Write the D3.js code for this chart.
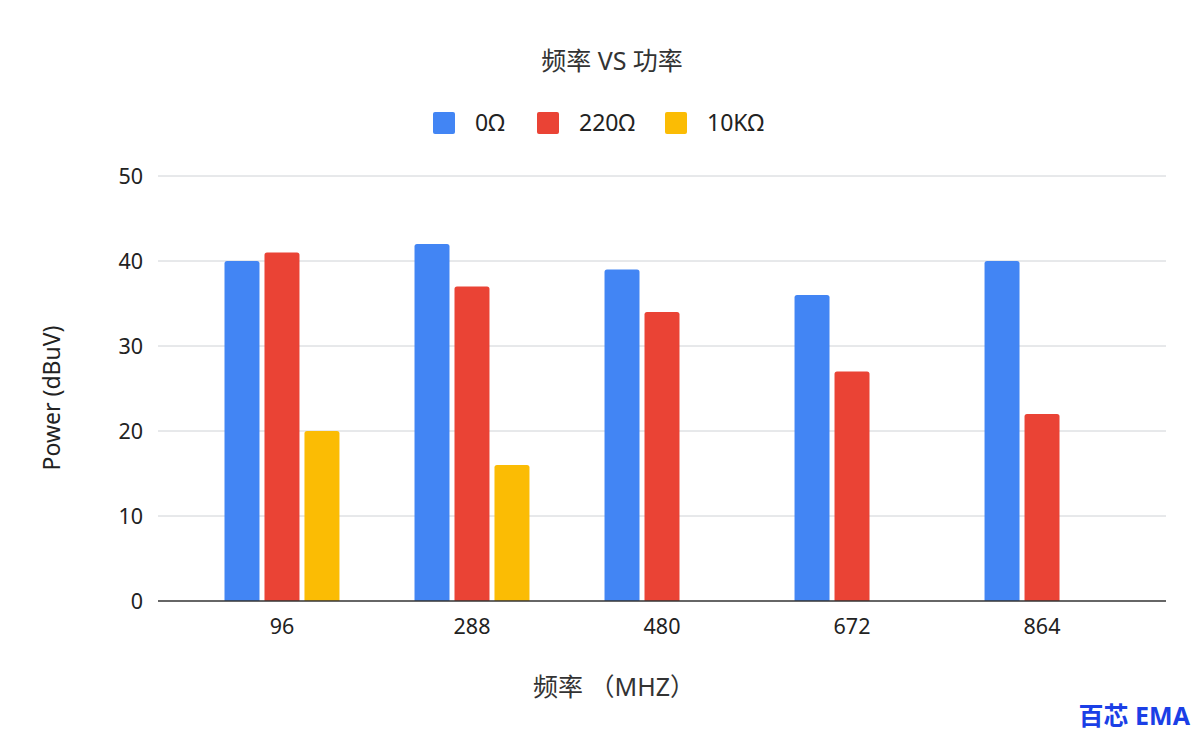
<!DOCTYPE html>
<html><head><meta charset="utf-8">
<script src="https://cdn.jsdelivr.net/npm/d3@7"></script>
<style>
body{margin:0;background:#fff;}
text{font-family:"Noto Sans","Noto Sans CJK SC",sans-serif;}
</style></head>
<body>
<svg id="chart" width="1204" height="742"></svg>
<script>
const categories = ["96","288","480","672","864"];
const seriesNames = ["0Ω","220Ω","10KΩ"];
const series0 = [40,42,39,36,40];
const series220 = [41,37,34,27,22];
const series10k = [20,16,null,null,null];
const yTicks = [0,10,20,30,40,50];
const colors = ["#4285F4","#EA4335","#FBBC04"];
const allSeries = [series0, series220, series10k];

(function(){
const svg = d3.select("#chart");
svg.append("rect").attr("width",1204).attr("height",742).attr("fill","#fff");

const pLeft=158, pRight=1166, pTop=176, pBottom=601;
const x0 = d3.scaleBand().domain(categories).range([pLeft,pRight]).paddingInner(0.395).paddingOuter(0.35);
const x1 = d3.scaleBand().domain(seriesNames).range([0,x0.bandwidth()]).paddingInner(0.125).paddingOuter(0);
const y = d3.scaleLinear().domain([0,50]).range([pBottom,pTop]);

// gridlines
svg.append("g").selectAll("line").data(yTicks.filter(d=>d>0)).join("line")
  .attr("x1",pLeft).attr("x2",pRight).attr("y1",d=>y(d)).attr("y2",d=>y(d))
  .attr("stroke","#cfd2d6").attr("stroke-width",1);

// y labels
svg.append("g").selectAll("text").data(yTicks).join("text")
  .attr("x",143).attr("y",d=>y(d)).attr("dy","0.35em").attr("text-anchor","end")
  .attr("font-size",21.5).attr("fill","#222").text(d=>d);

// bars
const groups = svg.append("g").selectAll("g").data(categories).join("g")
  .attr("transform",d=>`translate(${x0(d)},0)`);
groups.selectAll("path").data((c,i)=>seriesNames.map((s,j)=>({s,v:allSeries[j][i],c:colors[j]})).filter(d=>d.v!=null))
  .join("path")
  .attr("d",d=>{
    const bx=x1(d.s), bw=x1.bandwidth(), by=y(d.v), bh=y(0)-y(d.v), r=2.5;
    return `M${bx},${by+bh}V${by+r}Q${bx},${by} ${bx+r},${by}H${bx+bw-r}Q${bx+bw},${by} ${bx+bw},${by+r}V${by+bh}Z`;
  })
  .attr("fill",d=>d.c);

// baseline
svg.append("line").attr("x1",pLeft).attr("x2",pRight).attr("y1",y(0)).attr("y2",y(0))
  .attr("stroke","#333").attr("stroke-width",1.3);

// x labels
svg.append("g").selectAll("text").data(categories).join("text")
  .attr("x",d=>x0(d)+x0.bandwidth()/2).attr("y",626).attr("dy","0.35em").attr("text-anchor","middle")
  .attr("font-size",21.5).attr("fill","#222").text(d=>d);

// title
svg.append("text").attr("x",612).attr("y",61).attr("dy","0.35em").attr("text-anchor","middle")
  .attr("font-size",25).attr("fill","#333").text("频率 VS 功率");

// legend
const legX=[433,537,665];
const leg = svg.append("g").selectAll("g").data(seriesNames).join("g")
  .attr("transform",(d,i)=>`translate(${legX[i]},112)`);
leg.append("rect").attr("width",22).attr("height",22).attr("rx",2).attr("fill",(d,i)=>colors[i]);
leg.append("text").attr("x",42).attr("y",11).attr("dy","0.35em").attr("font-size",23).attr("fill","#222").text(d=>d);

// axis titles
svg.append("text").attr("transform","translate(52,398) rotate(-90)").attr("dy","0.35em")
  .attr("text-anchor","middle").attr("font-size",23).attr("fill","#222").text("Power (dBuV)");
svg.append("text").attr("x",614).attr("y",687).attr("dy","0.35em").attr("text-anchor","middle")
  .attr("font-size",25).attr("fill","#333").text("频率 （MHZ）");

// watermark
svg.append("text").attr("x",1190).attr("y",716).attr("dy","0.35em").attr("text-anchor","end")
  .attr("font-size",25).attr("font-weight","bold").attr("fill","#1b3fe6")
  .attr("font-family","'Noto Sans CJK SC',sans-serif").text("百芯 EMA");
})();
</script>
</body></html>
